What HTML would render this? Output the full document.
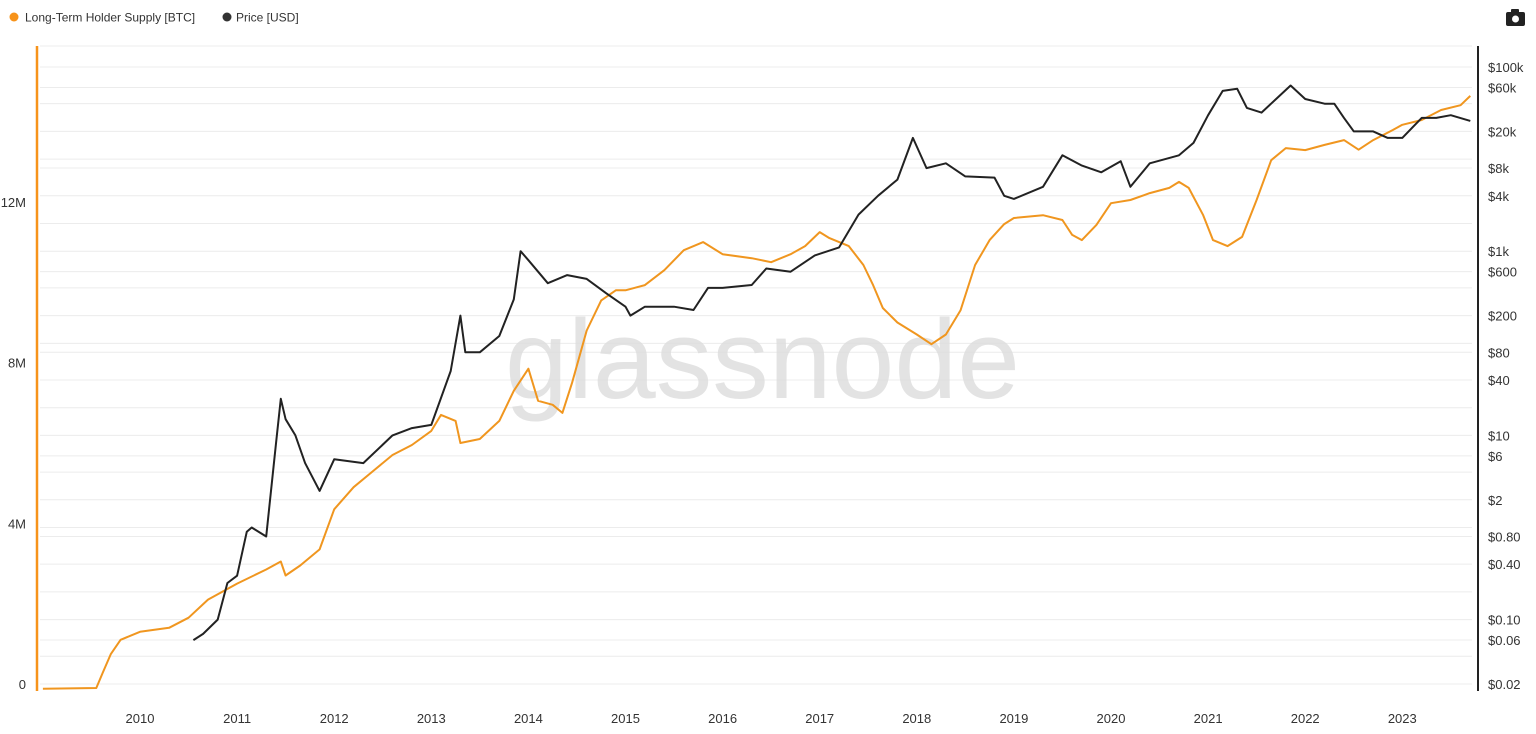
<!DOCTYPE html>
<html><head><meta charset="utf-8"><style>
body{margin:0;background:#fff;font-family:"Liberation Sans",sans-serif;}
#wrap{position:relative;width:1536px;height:734px;overflow:hidden;}
svg text{font-family:"Liberation Sans",sans-serif;}
</style></head><body>
<div id="wrap">
<svg id="chart" width="1536" height="734">
<g>
 <circle cx="14" cy="17" r="4.5" fill="#f7931a"/>
 <text x="25" y="21.5" font-size="12" fill="#333">Long-Term Holder Supply [BTC]</text>
 <circle cx="227" cy="17" r="4.5" fill="#333"/>
 <text x="236" y="21.5" font-size="12" fill="#333">Price [USD]</text>
</g>
<g>
 <rect x="1506" y="12" width="19" height="14" rx="2" fill="#222"/>
 <rect x="1511" y="9" width="8" height="4" rx="1" fill="#222"/>
 <circle cx="1515.5" cy="19" r="3.5" fill="#fff"/>
</g>
<g id="grid"></g>
<text x="505" y="398" textLength="515" lengthAdjust="spacingAndGlyphs" font-size="112" fill="#dcdcdc" fill-opacity="0.8">glassnode</text>
<line x1="37" y1="46" x2="37" y2="691" stroke="#f7931a" stroke-width="2.5"/>
<line x1="1478" y1="46" x2="1478" y2="691" stroke="#222" stroke-width="2"/>
<g id="lefty"></g>
<g id="righty"></g>
<g id="xaxis"></g>
<path id="lth" fill="none" stroke="#f0961f" stroke-width="2" stroke-linejoin="round"/>
<path id="price" fill="none" stroke="#222" stroke-width="2" stroke-linejoin="round"/>
</svg>
</div>
<script>
const lthYears=[2009.0,2009.55,2009.62,2009.7,2009.8,2010.0,2010.3,2010.5,2010.7,2011.0,2011.3,2011.45,2011.5,2011.65,2011.85,2012.0,2012.2,2012.4,2012.6,2012.8,2013.0,2013.1,2013.25,2013.3,2013.5,2013.7,2013.85,2014.0,2014.1,2014.25,2014.35,2014.45,2014.6,2014.75,2014.9,2015.0,2015.2,2015.4,2015.6,2015.8,2016.0,2016.3,2016.5,2016.7,2016.85,2017.0,2017.1,2017.3,2017.45,2017.55,2017.65,2017.8,2018.0,2018.15,2018.3,2018.45,2018.6,2018.75,2018.9,2019.0,2019.3,2019.5,2019.6,2019.7,2019.85,2020.0,2020.2,2020.4,2020.6,2020.7,2020.8,2020.95,2021.05,2021.2,2021.35,2021.5,2021.65,2021.8,2022.0,2022.2,2022.4,2022.55,2022.7,2022.9,2023.0,2023.2,2023.4,2023.6,2023.7];
const lthSupply=[-0.12,-0.1,0.3,0.75,1.1,1.3,1.4,1.65,2.1,2.5,2.85,3.05,2.7,2.95,3.35,4.35,4.9,5.3,5.7,5.95,6.3,6.7,6.55,6.0,6.1,6.55,7.3,7.85,7.05,6.95,6.75,7.5,8.8,9.55,9.8,9.8,9.93,10.3,10.8,11.0,10.7,10.6,10.5,10.7,10.9,11.25,11.1,10.9,10.43,9.93,9.36,9.0,8.7,8.46,8.7,9.3,10.43,11.05,11.45,11.6,11.67,11.55,11.18,11.05,11.43,11.97,12.05,12.22,12.35,12.5,12.35,11.67,11.05,10.9,11.13,12.05,13.04,13.34,13.29,13.42,13.54,13.3,13.54,13.79,13.92,14.04,14.29,14.41,14.64];
const priceYears=[2010.55,2010.65,2010.8,2010.9,2011.0,2011.1,2011.15,2011.3,2011.4,2011.45,2011.5,2011.6,2011.7,2011.85,2012.0,2012.3,2012.6,2012.8,2013.0,2013.2,2013.3,2013.35,2013.5,2013.7,2013.85,2013.92,2014.0,2014.1,2014.2,2014.4,2014.6,2014.8,2015.0,2015.05,2015.2,2015.5,2015.7,2015.85,2016.0,2016.3,2016.45,2016.7,2016.95,2017.2,2017.4,2017.6,2017.8,2017.96,2018.1,2018.3,2018.5,2018.8,2018.9,2019.0,2019.3,2019.5,2019.7,2019.9,2020.1,2020.2,2020.4,2020.7,2020.85,2021.0,2021.15,2021.3,2021.4,2021.55,2021.7,2021.85,2022.0,2022.2,2022.3,2022.4,2022.5,2022.7,2022.85,2023.0,2023.2,2023.35,2023.5,2023.7];
const priceUsd=[0.06,0.07,0.1,0.25,0.3,0.9,1.0,0.8,8,25,15,10,5,2.5,5.5,5,10,12,13,50,200,80,80,120,300,1000,800,600,450,550,500,350,250,200,250,250,230,400,400,430,650,600,900,1100,2500,4000,6000,17000,8000,9000,6500,6300,4000,3700,5000,11000,8500,7200,9500,5000,9000,11000,15000,30000,55000,58000,36000,32000,45000,63000,45000,40000,40000,28000,20000,20000,17000,17000,28000,28000,30000,26000];
const xTicks=[2010,2011,2012,2013,2014,2015,2016,2017,2018,2019,2020,2021,2022,2023];
const leftTicks=[0,4,8,12];
const leftTickLabels=["0","4M","8M","12M"];
const rightTicks=[0.02,0.06,0.1,0.4,0.8,2,6,10,40,80,200,600,1000,4000,8000,20000,60000,100000];
const rightTickLabels=["$0.02","$0.06","$0.10","$0.40","$0.80","$2","$6","$10","$40","$80","$200","$600","$1k","$4k","$8k","$20k","$60k","$100k"];

const X=y=>140+(y-2010)*97.1;
const YL=m=>684-m*40.17;
const YR=p=>684-(Math.log10(p)-Math.log10(0.02))*92.1;
const NS="http://www.w3.org/2000/svg";
function mk(tag,attrs,parent){const e=document.createElementNS(NS,tag);for(const k in attrs)e.setAttribute(k,attrs[k]);parent.appendChild(e);return e;}
const grid=document.getElementById('grid');
const gridVals=[0.02,0.04,0.06,0.1,0.2,0.4,0.8,1,2,4,6,10,20,40,80,100,200,400,600,1000,2000,4000,8000,10000,20000,40000,60000,100000];
gridVals.forEach(v=>{const l=mk('line',{x1:40,x2:1472,y1:YR(v),y2:YR(v),stroke:'#ececec','stroke-width':1},grid);

});
mk('line',{x1:40,x2:1472,y1:46,y2:46,stroke:'#ececec'},grid);
const ly=document.getElementById('lefty');
leftTicks.forEach((v,i)=>{const t=mk('text',{x:26,y:YL(v)+5,'text-anchor':'end','font-size':13,fill:'#333'},ly);t.textContent=leftTickLabels[i];

});
const ry=document.getElementById('righty');
rightTicks.forEach((v,i)=>{const t=mk('text',{x:1488,y:YR(v)+5,'font-size':13,fill:'#333'},ry);t.textContent=rightTickLabels[i];

});
const xa=document.getElementById('xaxis');
xTicks.forEach(v=>{const t=mk('text',{x:X(v),y:723,'text-anchor':'middle','font-size':13,fill:'#333'},xa);t.textContent=v;

});
document.getElementById('lth').setAttribute('d',lthYears.map((y,i)=>(i?'L':'M')+X(y).toFixed(1)+','+YL(lthSupply[i]).toFixed(1)).join(''));
document.getElementById('price').setAttribute('d',priceYears.map((y,i)=>(i?'L':'M')+X(y).toFixed(1)+','+YR(priceUsd[i]).toFixed(1)).join(''));
</script>
</body></html>
